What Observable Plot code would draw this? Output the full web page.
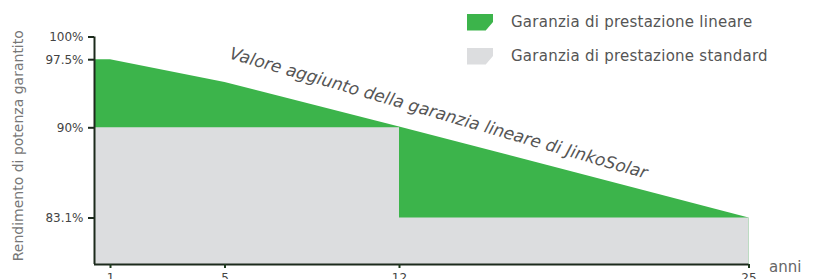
<!DOCTYPE html>
<html><head><meta charset="utf-8">
<script src="https://cdn.jsdelivr.net/npm/d3@7"></script>
<script src="https://cdn.jsdelivr.net/npm/@observablehq/plot@0.6"></script>
<style>
body{margin:0;background:#fff;font-family:"DejaVu Sans",sans-serif;}
#wrap{position:relative;width:815px;height:279px;overflow:hidden}
.leg{position:absolute;left:467px;display:flex;align-items:center;font-size:15px;letter-spacing:0.25px;color:#555;white-space:nowrap}
.sw{width:26px;height:17px;margin-right:18px;clip-path:polygon(0 0,100% 0,100% 50%,72% 100%,0 100%)}
</style></head><body><div id="wrap"></div>
<script>
// Data
const years = [0, 1, 5, 12, 25];
const linearValues = [97.5, 97.5, 95.0, 90.1, 83.1];
const standardYears = [0, 12, 12, 25];
const standardValues = [90, 90, 83.1, 83.1];
const xTicks = [1, 5, 12, 25];
const yTicks = [83.1, 90, 97.5, 100];
const yTickLabels = ["83.1%", "90%", "97.5%", "100%"];
const yMin = 80;
const legendLabels = ["Garanzia di prestazione lineare", "Garanzia di prestazione standard"];
const legendColors = ["#3cb44b", "#dcdddf"];
const yLabel = "Rendimento di potenza garantito";
const xLabel = "anni";
const annotation = "Valore aggiunto della garanzia lineare di JinkoSolar";

// Stylised (non-uniform) axes of the original: piecewise scale transforms
const xBreaks = [0, 1, 5, 12, 25], xStops = [94, 110, 224.5, 399, 748.5];
const yBreaks = [yMin, 83.1, 90, 100], yStops = [264, 217.5, 127.3, 36.5];
const xMap = d3.scaleLinear().domain(xBreaks).range(xStops);
const yMap = d3.scaleLinear().domain(yBreaks).range(yStops);

const linear = years.map((x, i) => ({x, y: linearValues[i]}));
const standard = standardYears.map((x, i) => ({x, y: standardValues[i]}));
const axisColor = "#1c2a1c";

const chart = Plot.plot({
  width: 815, height: 279,
  marginLeft: 94, marginRight: 66.5, marginTop: 36.5, marginBottom: 15,
  style: {fontFamily: "DejaVu Sans, sans-serif", background: "transparent"},
  x: {type: "linear", transform: xMap, domain: [94, 748.5], range: [94, 748.5]},
  y: {type: "linear", transform: yMap, domain: [264, 36.5], range: [264, 36.5]},
  marks: [
    Plot.areaY(linear, {x: "x", y1: yMin, y2: "y", fill: legendColors[0]}),
    Plot.areaY(standard, {x: "x", y1: yMin, y2: "y", fill: legendColors[1]}),
    Plot.ruleY([yMin], {x1: 0, x2: 25, stroke: axisColor, strokeWidth: 2}),
    Plot.ruleX([0], {y1: yMin, y2: 100, stroke: axisColor, strokeWidth: 2}),
    Plot.axisY(yTicks, {tickFormat: d => yTickLabels[yTicks.indexOf(d)], tickSize: 6, tickPadding: 5,
      fontSize: 12, fill: "#444", stroke: axisColor, strokeWidth: 2, label: null}),
    Plot.axisX(xTicks, {tickFormat: d => String(d), tickSize: 4, tickPadding: 5, fontSize: 12, fill: "#444",
      stroke: "#1e3a1e", strokeWidth: 2, label: null}),
    Plot.text([xLabel], {x: 25, y: yMin, dx: 20, dy: 3, textAnchor: "start", fontSize: 15, fill: "#666"}),
    Plot.text([yLabel], {frameAnchor: "left", dx: -76, dy: -5, rotate: -90, textAnchor: "middle", fontSize: 14, fill: "#777"}),
    Plot.text([annotation], {x: 13.45, y: 91.6, rotate: 16.1, fontSize: 17, fontStyle: "italic", fill: "#555"})
  ]
});
const wrap = document.getElementById("wrap");
wrap.appendChild(chart);
legendLabels.forEach((t, i) => {
  const d = document.createElement("div");
  d.className = "leg";
  d.style.top = (14 + i * 34 - 1) + "px";
  d.innerHTML = `<span class="sw" style="background:${legendColors[i]}"></span><span>${t}</span>`;
  wrap.appendChild(d);
});
</script></body></html>
